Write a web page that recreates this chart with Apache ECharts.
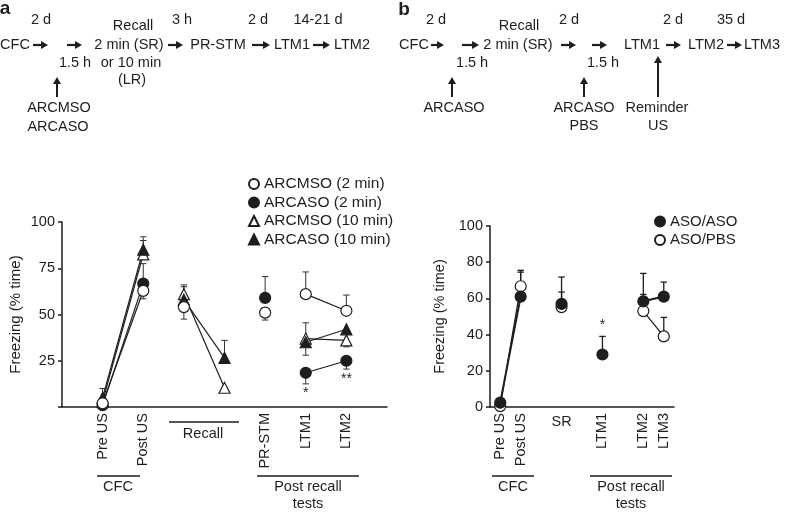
<!DOCTYPE html>
<html><head><meta charset="utf-8">
<script src="https://cdn.jsdelivr.net/npm/echarts@6/dist/echarts.min.js"></script>
<style>html,body{margin:0;padding:0;background:#fff}#c{width:788px;height:513px}</style>
</head><body><div id="c"></div>
<script>
// ---------- Panel a data ----------
const aPositions = [0, 1, 2, 3, 4, 5, 6];           // Pre US, Post US, Recall 1, Recall 2, PR-STM, LTM1, LTM2
const aTickLabels = {0: 'Pre US', 1: 'Post US', 4: 'PR-STM', 5: 'LTM1', 6: 'LTM2'};
const aArcmso2  = [2, 62.8, 54, null, 51, 61, 52];
const aArcaso2  = [1, 66.7, null, null, 59, 18.5, 25];
const aArcmso10 = [3, 82.5, 61, 10.4, null, 37, 36];
const aArcaso10 = [5, 85, 58, 26.6, null, 35, 42];
const aArcmso2Err  = [null, 58.5, 47.5, null, 47, 73, 60.5];
const aArcaso2Err  = [null, 77.5, null, null, 70.5, 12.5, 20.5];
const aArcmso10Err = [null, 90, 66, null, null, 45.5, 32.5];
const aArcaso10Err = [10, 92, 65, 36, null, 28, null];
const aLinks = [[0, 1], [2, 3], [5, 6]];
const aStars = [[5, 7.5, '*'], [6, 15, '**']];

// ---------- Panel b data ----------
const bPositions = [0, 1, 3, 5, 7, 8];              // Pre US, Post US, SR, LTM1, LTM2, LTM3
const bTickLabels = {0: 'Pre US', 1: 'Post US', 5: 'LTM1', 7: 'LTM2', 8: 'LTM3'};
const bFlatLabels = {3: 'SR'};
const bAsoAso = [2.4, 61, 57, 29, 58.4, 61];
const bAsoPbs = [0.5, 66.7, 55.2, null, 53, 39];
const bAsoAsoErr = [null, 74.5, 71.8, 39, 73.8, 69];
const bAsoPbsErr = [null, 75.5, 63.5, null, 62.2, 49.5];
const bLinks = [[0, 1], [4, 5]];
const bStars = [[5, 45.5, '*']];

const FONT = '"Liberation Sans", Arial, Helvetica, sans-serif';
const INK = '#1e1e1e';

function pts(pos, vals) {
  const out = [];
  vals.forEach((v, i) => { if (v != null) out.push([pos[i], v]); });
  return out;
}
function errData(pos, vals, errs) {
  const out = [];
  vals.forEach((v, i) => { if (v != null && errs[i] != null) out.push([pos[i], v, errs[i]]); });
  return out;
}
function linkSeries(pos, vals, links, grid, width) {
  return links.filter(([i, j]) => vals[i] != null && vals[j] != null).map(([i, j]) => ({
    type: 'line', xAxisIndex: grid, yAxisIndex: grid, z: 2, silent: true,
    symbol: 'none', lineStyle: {color: INK, width: width},
    data: [[pos[i], vals[i]], [pos[j], vals[j]]]
  }));
}
function errRender(color, w) {
  return function (params, api) {
    const x = api.value(0), y = api.value(1), e = api.value(2);
    const p0 = api.coord([x, y]), p1 = api.coord([x, e]);
    const cap = 3.2;
    return {type: 'group', children: [
      {type: 'line', shape: {x1: p0[0], y1: p0[1], x2: p1[0], y2: p1[1]}, style: {stroke: color, lineWidth: w}},
      {type: 'line', shape: {x1: p1[0] - cap, y1: p1[1], x2: p1[0] + cap, y2: p1[1]}, style: {stroke: color, lineWidth: w}}
    ]};
  };
}
function starRender(params, api) {
  const p = api.coord([api.value(0), api.value(1)]);
  return {type: 'text', x: p[0], y: p[1], style: {text: api.value(2), fill: INK, font: '14px ' + FONT, textAlign: 'center', verticalAlign: 'middle'}};
}
function scatter(name, grid, pos, vals, symbol, filled, size) {
  return {
    type: 'scatter', name, xAxisIndex: grid, yAxisIndex: grid, z: 3,
    symbol, symbolSize: size,
    itemStyle: {color: filled ? INK : '#fff', borderColor: INK, borderWidth: 1.2, opacity: 1},
    data: pts(pos, vals)
  };
}

// ---------- header graphics ----------
function T(text, x, y, size, bold) {
  return {type: 'text', x, y, style: {text, fill: INK, font: (bold ? 'bold ' : '') + (size || 14.5) + 'px ' + FONT, textAlign: 'center', verticalAlign: 'middle'}};
}
function arrowR(x1, x2, y) {
  return [
    {type: 'line', shape: {x1, y1: y, x2: x2 - 5, y2: y}, style: {stroke: INK, lineWidth: 2.2}},
    {type: 'polygon', shape: {points: [[x2 - 7, y - 4], [x2, y], [x2 - 7, y + 4]]}, style: {fill: INK}}
  ];
}
function arrowU(x, y1, y2) {
  return [
    {type: 'line', shape: {x1: x, y1: y1, x2: x, y2: y2 + 5}, style: {stroke: INK, lineWidth: 2}},
    {type: 'polygon', shape: {points: [[x - 4, y2 + 7], [x, y2], [x + 4, y2 + 7]]}, style: {fill: INK}}
  ];
}
function hline(x1, x2, y) {
  return {type: 'line', shape: {x1, y1: y, x2, y2: y}, style: {stroke: INK, lineWidth: 1.5}};
}

const graphics = [
  // panel a header
  T('a', 5, 9, 19, true),
  T('2 d', 41, 20), T('Recall', 133, 26), T('3 h', 182, 20), T('2 d', 258, 20), T('14-21 d', 318, 20),
  T('CFC', 15, 45), ...arrowR(33, 48, 45), ...arrowR(67, 82, 45),
  T('2 min (SR)', 129, 45), ...arrowR(168, 183, 45),
  T('PR-STM', 218, 45), ...arrowR(252, 270, 45),
  T('LTM1', 292, 45), ...arrowR(313, 330, 45), T('LTM2', 352, 45),
  T('1.5 h', 75, 63), T('or 10 min', 131, 63), T('(LR)', 132, 80),
  ...arrowU(57, 97, 77), T('ARCMSO', 59, 108), T('ARCASO', 58, 127),
  // panel b header
  T('b', 404, 10, 19, true),
  T('2 d', 436, 20), T('Recall', 519, 26), T('2 d', 569, 20), T('2 d', 673, 20), T('35 d', 731, 20),
  T('CFC', 414, 45), ...arrowR(431, 444, 45), ...arrowR(462, 479, 45),
  T('2 min (SR)', 518, 45), ...arrowR(561, 576, 45), ...arrowR(592, 607, 45),
  T('LTM1', 642, 45), ...arrowR(666, 681, 45), T('LTM2', 706, 45), ...arrowR(727, 742, 45), T('LTM3', 762, 45),
  T('1.5 h', 472, 63), T('1.5 h', 603, 63),
  ...arrowU(452, 97, 77), ...arrowU(584, 97, 77), ...arrowU(658, 97, 56),
  T('ARCASO', 454, 108), T('ARCASO', 584, 108), T('PBS', 584, 126), T('Reminder', 657, 108), T('US', 658, 126),
  // panel a group brackets
  hline(97, 140, 476), T('CFC', 118, 487),
  hline(169, 239, 422), T('Recall', 203, 434),
  hline(257, 359, 476), T('Post recall', 308, 487), T('tests', 308, 504),
  // panel b group brackets
  hline(492, 534, 476), T('CFC', 513, 487),
  hline(590, 672, 476), T('Post recall', 631, 487), T('tests', 631, 504)
];

const axisLine = {show: true, onZero: false, lineStyle: {color: INK, width: 1.5}};
const lblStyle = {color: INK, fontSize: 14.5, fontFamily: FONT};

const option = {
  animation: false,
  backgroundColor: '#fff',
  textStyle: {fontFamily: FONT},
  grid: [
    {left: 62, top: 222, width: 325, height: 185},
    {left: 490, top: 226, width: 184, height: 181}
  ],
  xAxis: [
    {type: 'value', gridIndex: 0, min: -1, max: 7, interval: 1, axisLine, axisTick: {show: false}, splitLine: {show: false},
     axisLabel: Object.assign({rotate: 90, margin: 6, formatter: v => aTickLabels[v] || ''}, lblStyle)},
    {type: 'value', gridIndex: 1, min: -0.5, max: 8.5, interval: 0.5, axisLine, axisTick: {show: false}, splitLine: {show: false},
     axisLabel: Object.assign({rotate: 90, margin: 6, formatter: v => bTickLabels[v] || ''}, lblStyle)},
    {type: 'value', gridIndex: 1, position: 'bottom', min: -0.5, max: 8.5, interval: 0.5, axisLine: {show: false}, axisTick: {show: false}, splitLine: {show: false},
     axisLabel: Object.assign({rotate: 0, margin: 7, formatter: v => bFlatLabels[v] || ''}, lblStyle)}
  ],
  yAxis: [
    {type: 'value', gridIndex: 0, min: 0, max: 100, interval: 25, axisLine, splitLine: {show: false},
     axisTick: {show: true, length: 4, lineStyle: {color: INK, width: 1.5}},
     axisLabel: Object.assign({margin: 7, formatter: v => v === 0 ? '' : String(v)}, lblStyle),
     name: 'Freezing (% time)', nameLocation: 'middle', nameGap: 39, nameTextStyle: {color: INK, fontSize: 15, fontFamily: FONT}},
    {type: 'value', gridIndex: 1, min: 0, max: 100, interval: 20, axisLine, splitLine: {show: false},
     axisTick: {show: true, length: 4, lineStyle: {color: INK, width: 1.5}},
     axisLabel: Object.assign({margin: 7}, lblStyle),
     name: 'Freezing (% time)', nameLocation: 'middle', nameGap: 43, nameTextStyle: {color: INK, fontSize: 14.5, fontFamily: FONT}}
  ],
  legend: [
    {left: 248, top: 176, orient: 'vertical', padding: 0, itemWidth: 10, itemHeight: 10, itemGap: 2.5,
     textStyle: {color: INK, fontSize: 15.5, fontFamily: FONT}, selectedMode: false,
     data: ['ARCMSO (2 min)', 'ARCASO (2 min)', 'ARCMSO (10 min)', 'ARCASO (10 min)']},
    {left: 654, top: 214, orient: 'vertical', padding: 0, itemWidth: 10, itemHeight: 10, itemGap: 3.5,
     textStyle: {color: INK, fontSize: 15, fontFamily: FONT}, selectedMode: false,
     data: ['ASO/ASO', 'ASO/PBS']}
  ],
  graphic: graphics,
  series: [
    // error bars
    {type: 'custom', xAxisIndex: 0, yAxisIndex: 0, z: 1, renderItem: errRender('#333', 1), encode: {x: 0, y: 1},
     data: [].concat(errData(aPositions, aArcmso2, aArcmso2Err), errData(aPositions, aArcaso2, aArcaso2Err),
                     errData(aPositions, aArcmso10, aArcmso10Err), errData(aPositions, aArcaso10, aArcaso10Err))},
    {type: 'custom', xAxisIndex: 1, yAxisIndex: 1, z: 1, renderItem: errRender(INK, 1.3), encode: {x: 0, y: 1},
     data: [].concat(errData(bPositions, bAsoAso, bAsoAsoErr), errData(bPositions, bAsoPbs, bAsoPbsErr))},
    // connecting lines
    ...linkSeries(aPositions, aArcmso2, aLinks, 0, 1.2),
    ...linkSeries(aPositions, aArcaso2, aLinks, 0, 1.2),
    ...linkSeries(aPositions, aArcmso10, aLinks, 0, 1.2),
    ...linkSeries(aPositions, aArcaso10, aLinks, 0, 1.2),
    ...linkSeries(bPositions, bAsoPbs, bLinks, 1, 1.3),
    ...linkSeries(bPositions, bAsoAso, bLinks, 1, 2),
    // markers
    scatter('ARCASO (2 min)', 0, aPositions, aArcaso2, 'circle', true, 11),
    scatter('ARCMSO (10 min)', 0, aPositions, aArcmso10, 'triangle', false, 11),
    scatter('ARCASO (10 min)', 0, aPositions, aArcaso10, 'triangle', true, 11),
    scatter('ARCMSO (2 min)', 0, aPositions, aArcmso2, 'circle', false, 11),
    scatter('ASO/PBS', 1, bPositions, bAsoPbs, 'circle', false, 11),
    scatter('ASO/ASO', 1, bPositions, bAsoAso, 'circle', true, 11),
    // significance stars
    {type: 'custom', xAxisIndex: 0, yAxisIndex: 0, z: 4, renderItem: starRender, encode: {x: 0, y: 1}, data: aStars},
    {type: 'custom', xAxisIndex: 1, yAxisIndex: 1, z: 4, renderItem: starRender, encode: {x: 0, y: 1}, data: bStars}
  ]
};

const chart = echarts.init(document.getElementById('c'), null, {renderer: 'canvas'});
chart.setOption(option);
</script>
</body></html>
